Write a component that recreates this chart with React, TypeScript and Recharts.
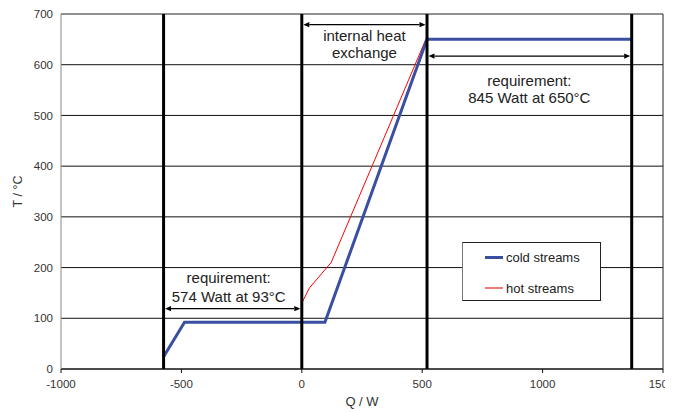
import React from 'react';
import {
  ComposedChart,
  Line,
  XAxis,
  YAxis,
  CartesianGrid,
  ReferenceLine,
  Legend,
} from 'recharts';

// Axis ticks
const qTicks = [-1000, -500, 0, 500, 1000, 1500];
const tTicks = [0, 100, 200, 300, 400, 500, 600, 700];

// Cold composite curve (heat load Q in W, temperature T in °C)
const coldQ = [-574, -487, 96, 520, 1370];
const coldT = [24, 92, 92, 650, 650];

// Hot composite curve
const hotQ = [0, 0, 32, 122, 515];
const hotT = [0, 130, 160, 210, 650];

// Section boundaries (vertical bars)
const boundaryQ = [-574, 0, 520, 1370];

// Dimension arrows with their captions
const spanFrom = [-574, 0, 520];
const spanTo = [0, 520, 1370];
const spanT = [119, 679, 617];
const spanText = [
  ['requirement:', '574 Watt at 93°C'],
  ['internal heat', 'exchange'],
  ['requirement:', '845 Watt at 650°C'],
];

const legendNames = ['cold streams', 'hot streams'];
const legendColors = ['#3a4ea2', '#f07a7a'];

const cold = coldQ.map((q, i) => ({ q, t: coldT[i] }));
const hot = hotQ.map((q, i) => ({ q, t: hotT[i] }));

const FONT = '"Liberation Sans", Arial, sans-serif';
const COLD = '#3a4ea2';
const HOT = '#ff0000';

// caption placement relative to each arrow: [dx, dy of first line, dy of second line]
const captionOffset = [
  [-4, -31, -12],
  [0, 11, 28],
  [0, 25, 42],
];

const makeArrow = (idx: number) => (p: any) => {
  const { x1, y1, x2 } = p;
  const y = y1;
  const l = Math.min(x1, x2) + 1.5;
  const r = Math.max(x1, x2) - 1.5;
  const h = 6;
  const w = 2.6;
  const [dx, d1, d2] = captionOffset[idx];
  const cx = (l + r) / 2 + dx;
  return (
    <g>
      <line x1={l + h} y1={y} x2={r - h} y2={y} stroke="#000" strokeWidth={1.3} />
      <polygon points={`${l},${y} ${l + h},${y - w} ${l + h},${y + w}`} fill="#000" />
      <polygon points={`${r},${y} ${r - h},${y - w} ${r - h},${y + w}`} fill="#000" />
      <text x={cx} y={y + d1} dy="0.35em" textAnchor="middle" fontSize={15} fontFamily={FONT} fill="#222">
        {spanText[idx][0]}
      </text>
      <text x={cx} y={y + d2} dy="0.35em" textAnchor="middle" fontSize={15} fontFamily={FONT} fill="#222">
        {spanText[idx][1]}
      </text>
    </g>
  );
};

const LegendBox = () => (
  <div
    style={{
      width: 137,
      height: 57,
      border: '1px solid #222',
      borderLeft: '1px solid #777',
      background: '#fff',
      fontFamily: FONT,
      fontSize: 13,
      color: '#222',
      position: 'relative',
    }}
  >
    {legendNames.map((n, i) => (
      <div
        key={n}
        style={{ position: 'absolute', left: 22, top: 6 + i * 31, display: 'flex', alignItems: 'center', height: 16 }}
      >
        <span
          style={{
            display: 'inline-block',
            width: 18,
            height: i === 0 ? 3 : 2,
            background: legendColors[i],
            marginRight: 3,
          }}
        />
        <span>{n}</span>
      </div>
    ))}
  </div>
);

export default function App() {
  return (
    <div style={{ width: 665, height: 404 }}>
      <style>{`html, body { overflow: hidden; } svg.recharts-surface { overflow: visible !important; }`}</style>
      <ComposedChart width={665} height={404} margin={{ top: 6, right: 10, left: 8, bottom: 13 }}>
        <CartesianGrid vertical={false} stroke="#111" strokeWidth={1} />
        <XAxis
          type="number"
          dataKey="q"
          domain={[-1000, 1500]}
          ticks={qTicks}
          allowDataOverflow
          height={30}
          stroke="#111"
          tickSize={4}
          tickMargin={7}
          tick={{ fontSize: 11.5, fontFamily: FONT, fill: '#333' }}
          label={{ value: 'Q / W', position: 'insideBottom', offset: -7, fontSize: 13, fontFamily: FONT, fill: '#333' }}
        />
        <YAxis
          type="number"
          dataKey="t"
          domain={[0, 700]}
          ticks={tTicks}
          width={45}
          stroke="#888"
          tickLine={false}
          tickSize={0}
          tickMargin={8}
          tick={{ fontSize: 11.5, fontFamily: FONT, fill: '#333' }}
          label={{
            content: ({ viewBox }: any) => {
              const cx = viewBox.x + 2;
              const cy = viewBox.y + viewBox.height / 2;
              return (
                <text
                  x={cx}
                  y={cy}
                  transform={`rotate(-90 ${cx} ${cy})`}
                  textAnchor="middle"
                  dy="0.35em"
                  fontSize={12.5}
                  fontFamily={FONT}
                  fill="#333"
                >
                  T / °C
                </text>
              );
            },
          }}
        />
        <Line
          data={hot}
          dataKey="t"
          name="hot streams"
          stroke={HOT}
          strokeWidth={1}
          dot={false}
          activeDot={false}
          isAnimationActive={false}
        />
        <Line
          data={cold}
          dataKey="t"
          name="cold streams"
          stroke={COLD}
          strokeWidth={3}
          dot={false}
          activeDot={false}
          isAnimationActive={false}
        />
        <ReferenceLine y={700} stroke="#999" strokeWidth={1} />
        <ReferenceLine x={1500} stroke="#222" strokeWidth={1} />
        {boundaryQ.map((q) => (
          <ReferenceLine key={q} x={q} stroke="#000" strokeWidth={3} />
        ))}
        {spanFrom.map((a, i) => (
          <ReferenceLine
            key={`span-${i}`}
            segment={[
              { x: a, y: spanT[i] },
              { x: spanTo[i], y: spanT[i] },
            ]}
            shape={makeArrow(i)}
          />
        ))}
        <Legend
          layout="vertical"
          align="center"
          verticalAlign="middle"
          wrapperStyle={{ left: 454, top: 234, width: 139, height: 59 }}
          content={() => <LegendBox />}
        />
      </ComposedChart>
    </div>
  );
}
